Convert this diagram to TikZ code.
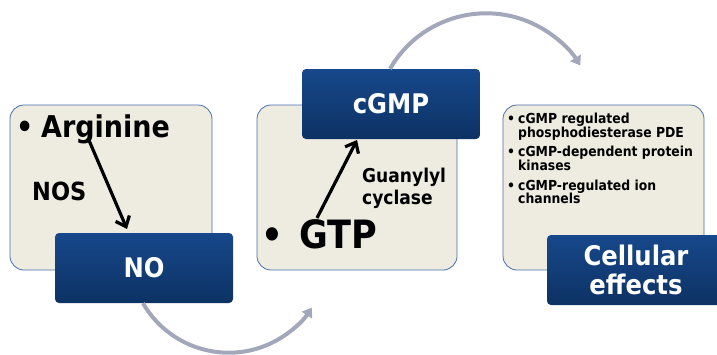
\documentclass[tikz,border=0pt]{standalone}
\usepackage{fontspec}
\setmainfont{DejaVu Sans Condensed}
\usetikzlibrary{arrows.meta}
\definecolor{beigefill}{HTML}{EEECE1}
\definecolor{beigeline}{HTML}{4A6FAA}
\definecolor{bluetop}{HTML}{17488B}
\definecolor{bluebot}{HTML}{0D3264}
\definecolor{flowgray}{HTML}{A2A7BA}
\tikzset{
  panel/.style={draw=beigeline, line width=0.8pt, fill=beigefill, rounded corners=14pt, inner sep=0pt},
  bluebox/.style={top color=bluetop, bottom color=bluebot, draw=none, rounded corners=4pt,
    text=white, font=\bfseries\fontsize{27}{29}\selectfont, align=center,
    minimum width=178pt, minimum height=70pt, inner sep=0pt},
  lbl/.style={inner sep=0pt, anchor=base west, font=\bfseries},
  flow/.style={draw=flowgray, line width=4pt, -{Triangle[length=9pt,width=12pt]}},
  react/.style={draw=black, line width=3.2pt, -{Straight Barb[length=9pt,width=15pt,line width=3.2pt]}},
}
\begin{document}
\begin{tikzpicture}[x=1pt,y=-1pt]
\useasboundingbox (0,0) rectangle (717,354);
% panels
\node[panel, minimum width=202pt, minimum height=165pt] (p1) at (111,187.5) {};
\node[panel, minimum width=200pt, minimum height=165pt] (p2) at (357,187.5) {};
\node[panel, minimum width=201pt, minimum height=165pt] (p3) at (603.5,187.5) {};
% panel 1 text
\node[lbl, font=\bfseries\fontsize{30}{34}\selectfont] (b1) at (16,137) {•};
\node[lbl, font=\bfseries\fontsize{30}{34}\selectfont] (arg) at (41,137) {Arginine};
\node[lbl, font=\bfseries\fontsize{25}{27}\selectfont] (nos) at (32,200) {NOS};
% panel 2 text
\node[lbl, font=\bfseries\fontsize{38}{42}\selectfont] (b2) at (261,248) {•};
\node[lbl, font=\bfseries\fontsize{39}{42}\selectfont] (gtp) at (299,248) {GTP};
\node[lbl, font=\bfseries\fontsize{19}{22}\selectfont] (gc1) at (362,182) {Guanylyl};
\node[lbl, font=\bfseries\fontsize{19}{22}\selectfont] (gc2) at (362,204) {cyclase};
% panel 3 text
\tikzset{small/.style={lbl, font=\bfseries\fontsize{13.8}{15}\selectfont}}
\node[small] (d1) at (507,123) {•};
\node[small] (e1) at (518,123) {cGMP regulated};
\node[small] (e1b) at (518,137) {phosphodiesterase PDE};
\node[small] (d2) at (507,156) {•};
\node[small] (e2) at (518,156) {cGMP-dependent protein};
\node[small] (e2b) at (518,170) {kinases};
\node[small] (d3) at (507,190) {•};
\node[small] (e3) at (518,190) {cGMP-regulated ion};
\node[small] (e3b) at (518,203) {channels};
% blue boxes
\node[bluebox] (no) at (144,268) {NO};
\node[bluebox] (cgmp) at (391,104) {cGMP};
\node[bluebox] (cell) at (636,270) {Cellular\\effects};
% reaction arrows
\coordinate (argS) at (88,138);
\coordinate (noT) at (127,229);
\draw[react] (argS) -- (noT);
\coordinate (gtpS) at (317,218);
\coordinate (cgT) at (357,140);
\draw[react] (gtpS) -- (cgT);
% flow arcs
\coordinate (f1s) at ([xshift=-1pt]no.south);
\draw[flow] (f1s) arc[start angle=150, end angle=33, radius=99];
\coordinate (f2s) at ([xshift=-1pt]cgmp.north);
\draw[flow] (f2s) arc[start angle=-150, end angle=-32, radius=111];
\end{tikzpicture}
\end{document}
